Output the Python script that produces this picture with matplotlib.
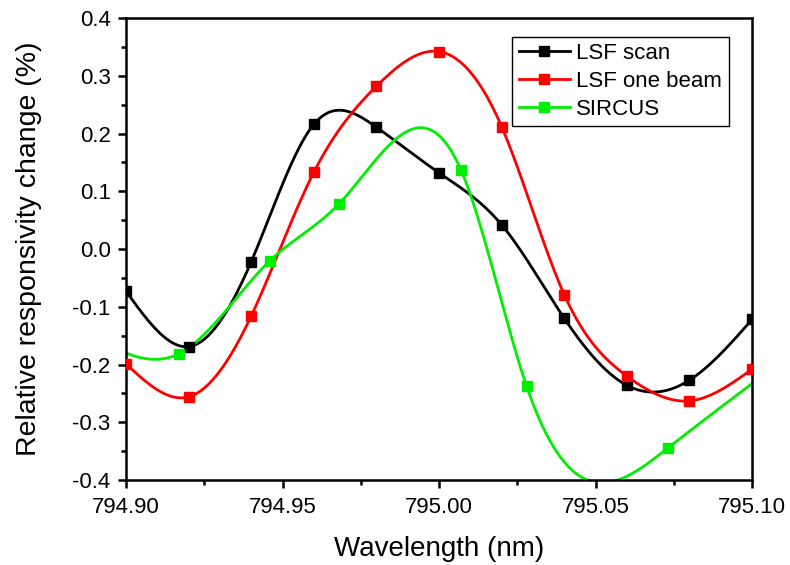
import numpy as np
import matplotlib
matplotlib.use("Agg")
import matplotlib.pyplot as plt

plt.rcParams['font.family'] = ['Liberation Sans', 'DejaVu Sans']

# ---- data ----
wl_lsf = [794.90, 794.92, 794.94, 794.96, 794.98, 795.00,
          795.02, 795.04, 795.06, 795.08, 795.10]
lsf_scan = [-0.073, -0.169, -0.022, 0.216, 0.211, 0.132,
            0.042, -0.120, -0.236, -0.227, -0.122]
lsf_one_beam = [-0.199, -0.256, -0.116, 0.133, 0.282, 0.342,
                0.212, -0.079, -0.220, -0.263, -0.208]

# SIRCUS points (first and last lie outside the plotted range)
wl_sircus = [794.889, 794.917, 794.946, 794.968, 795.007,
             795.028, 795.073, 795.118]
sircus = [-0.150, -0.181, -0.020, 0.078, 0.137,
          -0.238, -0.345, -0.160]

x_ticks = [794.90, 794.95, 795.00, 795.05, 795.10]
y_ticks = [-0.4, -0.3, -0.2, -0.1, 0.0, 0.1, 0.2, 0.3, 0.4]


def natural_spline(x, y, n=400):
    # natural cubic spline, like Origin's "spline" connect
    x = np.asarray(x, float)
    y = np.asarray(y, float)
    h = np.diff(x)
    m = len(x)
    A = np.zeros((m, m))
    b = np.zeros(m)
    A[0, 0] = A[-1, -1] = 1.0
    for i in range(1, m - 1):
        A[i, i - 1] = h[i - 1]
        A[i, i] = 2 * (h[i - 1] + h[i])
        A[i, i + 1] = h[i]
        b[i] = 6 * ((y[i + 1] - y[i]) / h[i] - (y[i] - y[i - 1]) / h[i - 1])
    M = np.linalg.solve(A, b)
    xs = np.linspace(x[0], x[-1], n)
    k = np.clip(np.searchsorted(x, xs) - 1, 0, m - 2)
    t0 = x[k + 1] - xs
    t1 = xs - x[k]
    hk = h[k]
    ys = (M[k] * t0**3 + M[k + 1] * t1**3) / (6 * hk) \
        + (y[k] / hk - M[k] * hk / 6) * t0 \
        + (y[k + 1] / hk - M[k + 1] * hk / 6) * t1
    return xs, ys


fig = plt.figure(figsize=(7.9, 5.65), dpi=100)
ax = fig.add_axes([0.1595, 0.1504, 0.7925, 0.8176])

series = [
    (wl_lsf, lsf_scan, "#000000", "LSF scan"),
    (wl_lsf, lsf_one_beam, "#ff0000", "LSF one beam"),
    (wl_sircus, sircus, "#00ee00", "SIRCUS"),
]
for xv, yv, col, lab in series:
    xs, ys = natural_spline(xv, yv)
    ax.plot(xs, ys, color=col, lw=2.0, zorder=2)
    ax.plot(xv, yv, ls="none", marker="s", ms=6.5, color=col, zorder=3)
    ax.plot([], [], color=col, lw=2.0, marker="s", ms=6.5, label=lab)

ax.set_xlim(794.90, 795.10)
ax.set_ylim(-0.4, 0.4)
ax.set_xticks(x_ticks)
ax.set_xticklabels([f"{v:.2f}" for v in x_ticks])
ax.set_yticks(y_ticks)
ax.set_yticklabels([f"{v:.1f}" for v in y_ticks])
ax.set_xticks(np.arange(794.925, 795.10, 0.05), minor=True)
ax.set_yticks(np.arange(-0.35, 0.4, 0.1), minor=True)

for s in ax.spines.values():
    s.set_linewidth(1.8)
ax.tick_params(which="major", direction="out", length=6, width=1.8,
               labelsize=16, top=False, right=False)
ax.tick_params(axis="x", which="major", pad=6)
ax.tick_params(axis="y", which="major", pad=5)
ax.tick_params(which="minor", direction="out", length=3.5, width=1.8,
               top=False, right=False)

ax.set_xlabel("Wavelength (nm)", fontsize=20, labelpad=13)
ax.set_ylabel("Relative responsivity change (%)", fontsize=20.5, labelpad=22)

leg = ax.legend(loc="upper left", bbox_to_anchor=(0.6165, 0.96),
                fontsize=16, fancybox=False, framealpha=1,
                edgecolor="black", handlelength=2.3, borderpad=0.3,
                labelspacing=0.3, handletextpad=0.3, borderaxespad=0)
leg.get_frame().set_linewidth(1.0)

fig.savefig("out.png", dpi=100)
